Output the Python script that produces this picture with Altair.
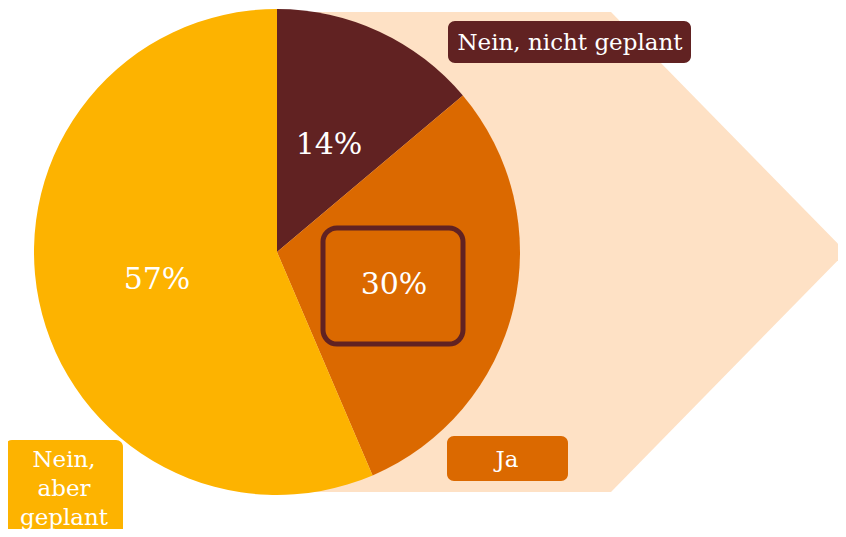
import altair as alt
import pandas as pd

categories = ["Nein, nicht geplant", "Ja", "Nein, aber geplant"]
values = [14, 30, 57]
labels = ["14%", "30%", "57%"]
colors = ["#612222", "#DB6900", "#FDB300"]

W, H = 830, 521
X0, Y0 = 8, 8
xs = alt.Scale(domain=[X0, X0 + W], range=[0, W])
ys = alt.Scale(domain=[Y0, Y0 + H], range=[0, H])

def X(f, **k):
    return alt.X(f, type="quantitative", scale=xs, axis=None, **k)

def Y(f, **k):
    return alt.Y(f, type="quantitative", scale=ys, axis=None, **k)

# background arrow
arrow = pd.DataFrame({"x": [277, 611, 846], "top": [12, 12, 252], "bot": [492, 492, 252]})
bg = alt.Chart(arrow).mark_area(color="#FEE1C5", interpolate="linear").encode(
    x=X("x"), y=Y("top"), y2="bot"
)

pie_df = pd.DataFrame({"cat": categories, "v": values, "o": [0, 1, 2], "cx": 277, "cy": 252})
pie = alt.Chart(pie_df).mark_arc(outerRadius=243).encode(
    theta=alt.Theta("v:Q", stack=True),
    order=alt.Order("o:Q"),
    color=alt.Color("cat:N", scale=alt.Scale(domain=categories, range=colors), legend=None),
    x=X("cx"), y=Y("cy"),
)

# highlight box around 30%
hl = pd.DataFrame({"x": [323], "x2": [463], "y": [228], "y2": [344]})
hlbox = alt.Chart(hl).mark_rect(cornerRadius=14, fill="#DB6900", stroke="#612222", strokeWidth=5).encode(
    x=X("x"), x2="x2", y=Y("y"), y2="y2"
)

pct = pd.DataFrame({"t": labels, "x": [329, 394, 157], "y": [145, 285, 280]})
pct_text = alt.Chart(pct).mark_text(font="DejaVu Serif", fontSize=30, color="white").encode(
    x=X("x"), y=Y("y"), text="t:N"
)

boxes = pd.DataFrame({
    "cat": categories,
    "x": [448, 447, 5], "x2": [691, 568, 123],
    "y": [21, 436, 440], "y2": [63, 481, 545],
})
box_layer = alt.Chart(boxes).mark_rect(cornerRadius=7).encode(
    x=X("x"), x2="x2", y=Y("y"), y2="y2",
    color=alt.Color("cat:N", scale=alt.Scale(domain=categories, range=colors), legend=None),
)

lab = pd.DataFrame({
    "t": [["Nein, nicht geplant"], ["Ja"], ["Nein,", "aber", "geplant"]],
    "x": [570, 507, 64], "y": [43, 460, 460],
})
lab_text = alt.Chart(lab).mark_text(font="DejaVu Serif", fontSize=23, color="white",
                                    lineHeight=29, baseline="middle").encode(
    x=X("x"), y=Y("y"), text="t"
)

chart = alt.layer(bg, pie, hlbox, pct_text, box_layer, lab_text).properties(
    width=W, height=H, padding=0, autosize=alt.AutoSizeParams(type="none")
).configure_view(stroke=None)

chart.save("out.html", embed_options={"renderer": "svg", "actions": False})
